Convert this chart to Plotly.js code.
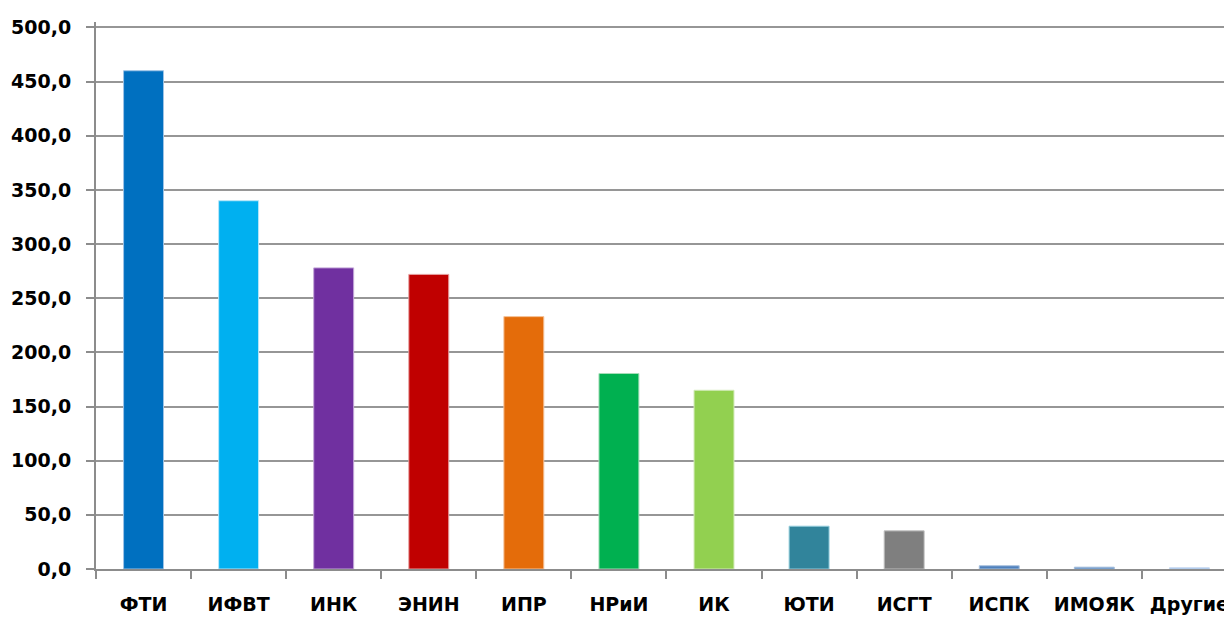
<!DOCTYPE html>
<html>
<head>
<meta charset="utf-8">
<script src="https://cdn.plot.ly/plotly-3.0.1.min.js"></script>
<style>
  html, body { margin: 0; padding: 0; background: #ffffff; overflow: hidden; }
  #chart { width: 1224px; height: 617px; }
</style>
</head>
<body>
<div id="chart"></div>
<script>
// Institutes and their values
const institutes = ["ФТИ", "ИФВТ", "ИНК", "ЭНИН", "ИПР", "НРиИ", "ИК", "ЮТИ", "ИСГТ", "ИСПК", "ИМОЯК", "Другие"];
const values = [460, 340, 278, 272, 233, 180.5, 165, 39.5, 35.2, 3.0, 1.7, 1.1];
const barColors = ["#0070C0", "#00B0F0", "#7030A0", "#C00000", "#E46C0A", "#00B050", "#92D050", "#31849B", "#7F7F7F", "#4F81BD", "#4F81BD", "#8EB4E3"];
const barEdges = ["#9DC3E6", "#B7E6F8", "#C3A6D8", "#E6A0A0", "#F5C49C", "#A6DDB9", "#D2EAB8", "#92CDDC", "#BFBFBF", "#A7C0DE", "#A7C0DE", "#C6D9F1"];
const yTicks = [0, 50, 100, 150, 200, 250, 300, 350, 400, 450, 500];
const yTickText = ["0,0", "50,0", "100,0", "150,0", "200,0", "250,0", "300,0", "350,0", "400,0", "450,0", "500,0"];

const labelFont = { family: "DejaVu Sans, sans-serif", size: 19, color: "#000000", weight: "bold" };

const trace = {
  type: "bar",
  x: institutes,
  y: values,
  marker: { color: barColors, line: { color: barEdges, width: 1 } },
  hoverinfo: "x+y"
};

const layout = {
  width: 1224,
  height: 617,
  margin: { l: 96, r: 0, t: 22, b: 48, pad: 0 },
  paper_bgcolor: "#ffffff",
  plot_bgcolor: "#ffffff",
  showlegend: false,
  bargap: 0.58,
  font: labelFont,
  xaxis: {
    type: "category",
    range: [-0.5, 11.364],
    showgrid: false,
    showline: true,
    linecolor: "#8c8c8c",
    linewidth: 2,
    ticks: "outside",
    ticklen: 8,
    tickwidth: 2,
    tickcolor: "#8c8c8c",
    tickson: "boundaries",
    ticklabelstandoff: 17,
    tickfont: labelFont,
    zeroline: false,
    fixedrange: true
  },
  yaxis: {
    range: [0, 505],
    tickvals: yTicks,
    ticktext: yTickText,
    showgrid: true,
    gridcolor: "#969696",
    gridwidth: 2,
    showline: true,
    linecolor: "#8c8c8c",
    linewidth: 2,
    ticks: "outside",
    ticklen: 8,
    tickwidth: 2,
    tickcolor: "#8c8c8c",
    ticklabelstandoff: 11,
    tickfont: labelFont,
    zeroline: false,
    fixedrange: true
  }
};

Plotly.newPlot("chart", [trace], layout, { displayModeBar: false, staticPlot: true });
</script>
</body>
</html>
